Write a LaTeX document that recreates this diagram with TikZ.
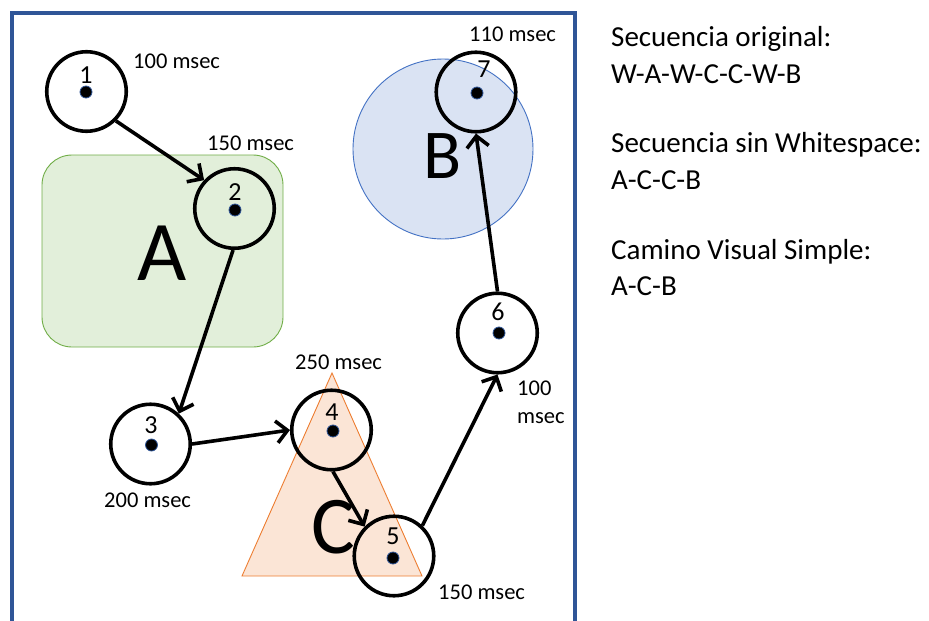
\documentclass[tikz,border=0pt]{standalone}
\usepackage{fontspec}
\setmainfont{Carlito}
\usetikzlibrary{arrows.meta}

\definecolor{frameblue}{HTML}{2F5597}
\definecolor{dotblue}{HTML}{2F5597}
\definecolor{zoneAfill}{HTML}{E2EFDA}
\definecolor{zoneAline}{HTML}{70AD47}
\definecolor{zoneBfill}{HTML}{DAE3F3}
\definecolor{zoneBline}{HTML}{4472C4}
\definecolor{zoneCfill}{HTML}{FBE5D6}
\definecolor{zoneCline}{HTML}{ED7D31}

\begin{document}
\begin{tikzpicture}[x=1pt,y=-1pt,
  fixation/.style={circle, draw=black, line width=3.6pt, minimum size=79.5pt, inner sep=0pt},
  ptdot/.style={circle, fill=black, draw=dotblue, line width=0.8pt, minimum size=12pt, inner sep=0pt},
  numlabel/.style={anchor=base, inner sep=0pt, font=\fontsize{26}{30}\selectfont},
  timelabel/.style={anchor=base west, inner sep=0pt, font=\fontsize{22.5}{27}\selectfont},
  zoneletter/.style={anchor=base, inner sep=0pt},
  sidetext/.style={anchor=base west, inner sep=0pt, font=\fontsize{29}{34}\selectfont},
  saccade/.style={line width=3.6pt, -{Straight Barb[length=11pt,width=22pt]}}
]
\useasboundingbox (0,0) rectangle (929,621);

% outer frame (runs off the bottom edge)
\draw[frameblue, line width=3.6pt] (12,640) -- (12,13) -- (575,13) -- (575,640);

% areas of interest
\draw[zoneAline, fill=zoneAfill, line width=0.9pt, rounded corners=30pt]
  (42,155) rectangle (283,347);
\draw[zoneBline, fill=zoneBfill, line width=0.9pt] (443,149) circle (90pt);
\draw[zoneCline, fill=zoneCfill, line width=0.9pt]
  (332,373) -- (422,576) -- (242,576) -- cycle;

\node[zoneletter, font=\fontsize{85}{90}\selectfont] (lA) at (162,280) {A};
\node[zoneletter, font=\fontsize{70}{80}\selectfont] (lB) at (443,178) {B};
\node[zoneletter, font=\fontsize{82}{90}\selectfont] (lC) at (333,553) {C};

% fixations
\node[fixation] (n1) at (86.5,91.5) {};
\node[fixation] (n2) at (234.5,208.5) {};
\node[fixation] (n3) at (150.5,444) {};
\node[fixation] (n4) at (331.5,430) {};
\node[fixation] (n5) at (394,556) {};
\node[fixation] (n6) at (497.5,333) {};
\node[fixation] (n7) at (476,92) {};

\node[ptdot] (d1) at (86,92) {};
\node[ptdot] (d2) at (235,210) {};
\node[ptdot] (d3) at (151.5,445) {};
\node[ptdot] (d4) at (333,431) {};
\node[ptdot] (d5) at (393,558) {};
\node[ptdot] (d6) at (499,333) {};
\node[ptdot] (d7) at (477,93) {};

\node[numlabel] (k1) at (86,83) {1};
\node[numlabel] (k2) at (235,200) {2};
\node[numlabel] (k3) at (151,433) {3};
\node[numlabel] (k4) at (332,420) {4};
\node[numlabel] (k5) at (393,544) {5};
\node[numlabel] (k6) at (498,320) {6};
\node[numlabel] (k7) at (484,77) {7};

% saccades
\draw[saccade] (n1.-45) -- (n2.137);
\draw[saccade] (n2.-92) -- (n3.47);
\draw[saccade] (n3.0) -- (n4.180);
\draw[saccade] (n4.-88) -- (n5.135);
\draw[saccade] (n5.47) -- (n6.-90);
\draw[saccade] (n6.90) -- (n7.-90);

% durations
\node[timelabel] (t1) at (133,68) {100 msec};
\node[timelabel] (t2) at (207,150) {150 msec};
\node[timelabel] (t3) at (104,507) {200 msec};
\node[timelabel] (t4) at (295,369) {250 msec};
\node[timelabel] (t5) at (438,599) {150 msec};
\node[timelabel] (t6a) at (517,395) {100};
\node[timelabel] (t6b) at (517,423) {msec};
\node[timelabel] (t7) at (469,41) {110 msec};

% sequences
\node[sidetext] (s1) at (611,46) {Secuencia original:};
\node[sidetext] (s2) at (611,83) {W-A-W-C-C-W-B};
\node[sidetext] (s3) at (611,152) {Secuencia sin Whitespace:};
\node[sidetext] (s4) at (611,189) {A-C-C-B};
\node[sidetext] (s5) at (611,259) {Camino Visual Simple:};
\node[sidetext] (s6) at (611,295) {A-C-B};
\end{tikzpicture}
\end{document}
